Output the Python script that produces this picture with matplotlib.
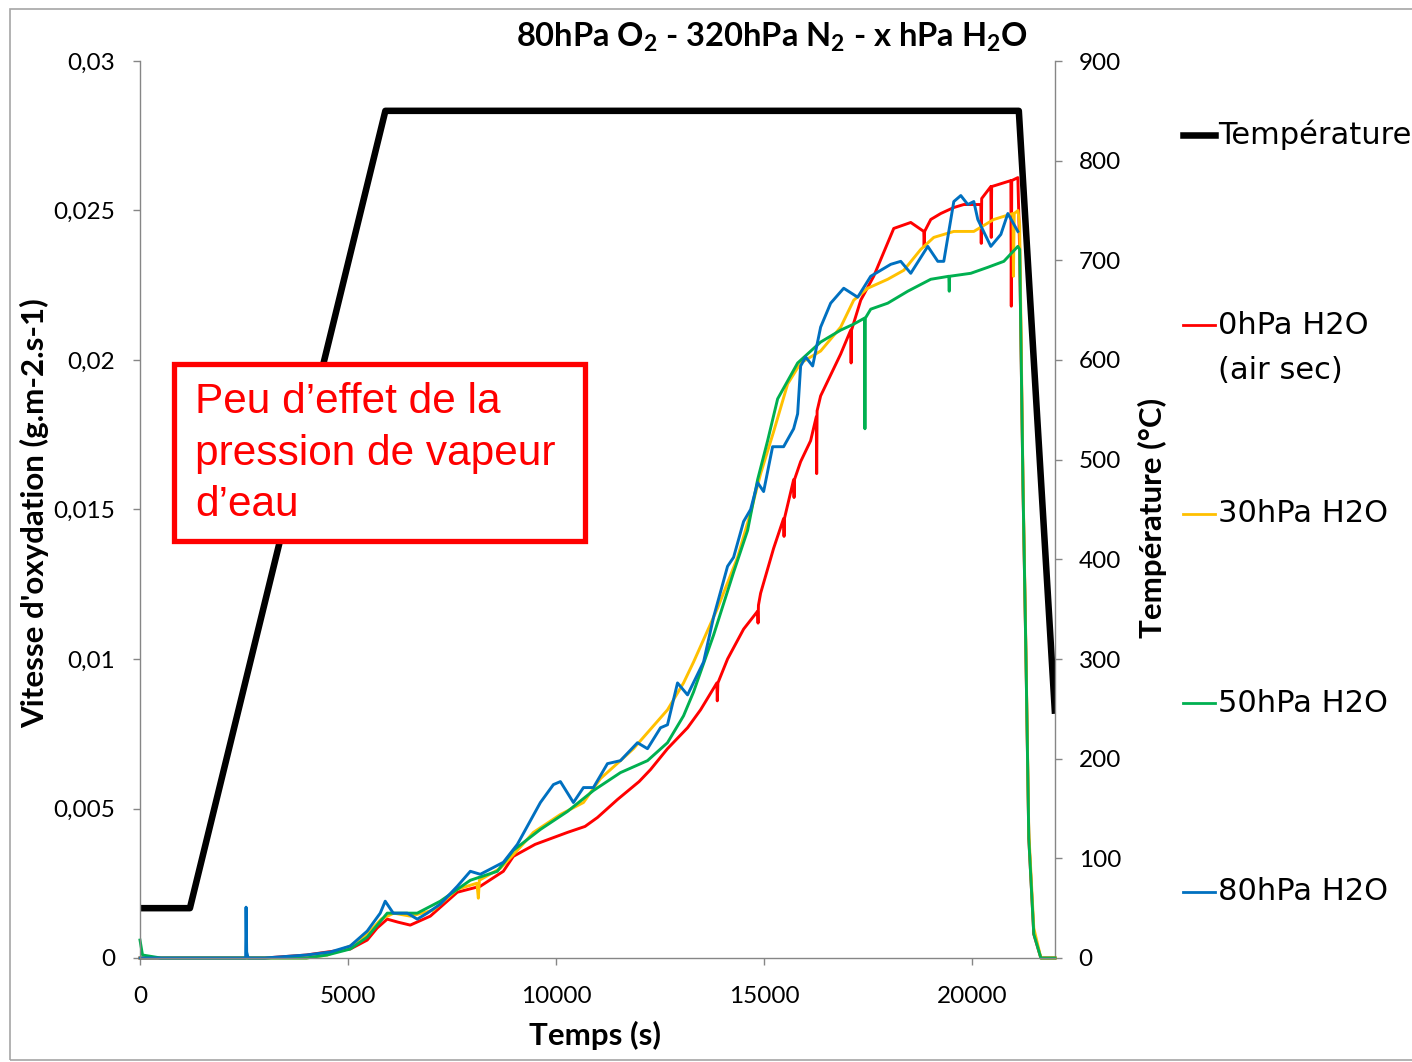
import matplotlib
matplotlib.use("Agg")
import matplotlib.pyplot as plt
from matplotlib.lines import Line2D
from matplotlib.patches import Rectangle

# ---------------- data ----------------
temp_t = [0, 1200, 5900, 21130, 22000]
temp_v = [50, 50, 850, 850, 245]

h0_t = [0, 1000, 2000, 3000, 4000, 4500, 5054, 5463, 5700, 5944, 6200, 6498, 6980, 7630, 8183, 8736,
        8977, 9500, 10277, 10700, 11000, 11480, 12000, 12274, 12683, 13165, 13478, 13870, 13880,
        13895, 14127, 14513, 14850, 14860, 14870, 14922, 15234, 15475, 15485, 15495, 15716, 15726, 15736,
        15884, 16124, 16260, 16270, 16280, 16365, 16847, 17088, 17098, 17108, 17329, 17641, 17882, 18123,
        18532, 18845, 18855, 18865, 19013, 19254, 19567, 19807, 20217, 20227, 20237, 20457, 20467, 20477,
        20939, 20949, 20960, 21107, 21150, 21230, 21300, 21370, 21490, 21660, 22000]
h0_v = [0.0, 0.0, 0.0, 0.0, 0.0001, 0.0002, 0.0003, 0.0006, 0.0010, 0.0013, 0.0012, 0.0011, 0.0014, 0.0022,
        0.0024, 0.0029, 0.0034, 0.0038, 0.0042, 0.0044, 0.0047, 0.0053, 0.0059, 0.0063, 0.0070,
        0.0077, 0.0083, 0.0092, 0.0086, 0.0092, 0.0100, 0.0110, 0.0116, 0.0112, 0.0118, 0.0122, 0.0137,
        0.0147, 0.0141, 0.0147, 0.0160, 0.0154, 0.0160, 0.0166, 0.0173, 0.0181, 0.0162, 0.0183, 0.0188,
        0.0202, 0.0210, 0.0199, 0.0210, 0.0220, 0.0228, 0.0236, 0.0244, 0.0246, 0.0243, 0.0238, 0.0243,
        0.0247, 0.0249, 0.0251, 0.0252, 0.0252, 0.0239, 0.0254, 0.0258, 0.0241, 0.0258, 0.0260, 0.0218,
        0.0260, 0.0261, 0.0237, 0.0158, 0.0102, 0.0040, 0.0008, 0.0, 0.0]

h30_t = [0, 1000, 2000, 3000, 4000, 4500, 5054, 5463, 5800, 6100, 6500, 7052, 7630, 8100, 8135, 8160,
         8664, 9073, 9458, 10108, 10662, 11071, 11552, 11865, 12683, 13069, 13310, 13887, 14368, 14681,
         14922, 15234, 15572, 15884, 16365, 16847, 17160, 17497, 17978, 18364, 18773, 19085, 19567, 20048,
         20529, 20990, 21000, 21020, 21110, 21150, 21230, 21300, 21370, 21490, 21660, 22000]
h30_v = [0.0, 0.0, 0.0, 0.0, 0.0, 0.0001, 0.0004, 0.0008, 0.0013, 0.0015, 0.0014, 0.0016, 0.0023, 0.0025,
         0.0020, 0.0026, 0.0030, 0.0036, 0.0042, 0.0048, 0.0052, 0.0060, 0.0066, 0.0070, 0.0083, 0.0092,
         0.0099, 0.0117, 0.0134, 0.0149, 0.0162, 0.0176, 0.0192, 0.0199, 0.0203, 0.0211, 0.0220, 0.0224,
         0.0227, 0.0230, 0.0237, 0.0241, 0.0243, 0.0243, 0.0247, 0.0249, 0.0228, 0.0249, 0.0250, 0.0245,
         0.0160, 0.0104, 0.0042, 0.0010, 0.0, 0.0]

h50_t = [0, 60, 500, 1000, 2000, 3000, 4000, 4500, 5054, 5463, 5944, 6667, 7220, 7942, 8592, 8977, 9627,
         10277, 10902, 11552, 12202, 12683, 13069, 13310, 13791, 14272, 14609, 14850, 15090, 15331, 15572,
         15812, 16365, 16847, 17160, 17420, 17430, 17440, 17569, 17978, 18460, 19013, 19447, 19457, 19467,
         19976, 20385, 20770, 21107, 21150, 21230, 21300, 21370, 21490, 21660, 22000]
h50_v = [0.0006, 0.0001, 0.0, 0.0, 0.0, 0.0, 0.0, 0.0001, 0.0003, 0.0007, 0.0015, 0.0015, 0.0019, 0.0026,
         0.0029, 0.0036, 0.0043, 0.0049, 0.0056, 0.0062, 0.0066, 0.0072, 0.0081, 0.0089, 0.0108, 0.0129,
         0.0143, 0.0160, 0.0173, 0.0187, 0.0193, 0.0199, 0.0206, 0.0210, 0.0212, 0.0214, 0.0177, 0.0214,
         0.0217, 0.0219, 0.0223, 0.0227, 0.0228, 0.0223, 0.0228, 0.0229, 0.0231, 0.0233, 0.0238, 0.0237,
         0.0158, 0.0102, 0.0040, 0.0008, 0.0, 0.0]

h80_t = [0, 1000, 2000, 2540, 2550, 2565, 2600, 3000, 4000, 4573, 5054, 5463, 5776, 5896, 6089, 6426, 6667,
         6907, 7220, 7630, 7942, 8183, 8736, 9073, 9627, 9940, 10108, 10421, 10662, 10902, 11239, 11552,
         11961, 12202, 12515, 12683, 12924, 13165, 13550, 13791, 14127, 14272, 14513, 14681, 14850, 14994,
         15210, 15475, 15716, 15812, 15884, 16005, 16173, 16365, 16606, 16920, 17256, 17569, 17810, 18051,
         18291, 18532, 18941, 19182, 19326, 19567, 19735, 19904, 20048, 20144, 20457, 20698, 20866, 21107]
h80_v = [0.0, 0.0, 0.0, 0.0, 0.0017, 0.0002, 0.0, 0.0, 0.0001, 0.0002, 0.0004, 0.0009, 0.0015, 0.0019,
         0.0015, 0.0015, 0.0013, 0.0015, 0.0018, 0.0024, 0.0029, 0.0028, 0.0032, 0.0038, 0.0052, 0.0058,
         0.0059, 0.0052, 0.0057, 0.0057, 0.0065, 0.0066, 0.0072, 0.0070, 0.0077, 0.0078, 0.0092, 0.0088,
         0.0099, 0.0114, 0.0131, 0.0134, 0.0146, 0.0150, 0.0159, 0.0156, 0.0171, 0.0171, 0.0177, 0.0182,
         0.0198, 0.0201, 0.0198, 0.0211, 0.0219, 0.0224, 0.0221, 0.0228, 0.0230, 0.0232, 0.0233, 0.0229,
         0.0238, 0.0233, 0.0233, 0.0253, 0.0255, 0.0252, 0.0253, 0.0247, 0.0238, 0.0242, 0.0249, 0.0243]

xticks = [0, 5000, 10000, 15000, 20000]
xtick_labels = ["0", "5000", "10000", "15000", "20000"]
yticks = [0, 0.005, 0.01, 0.015, 0.02, 0.025, 0.03]
ytick_labels = ["0", "0,005", "0,01", "0,015", "0,02", "0,025", "0,03"]
y2ticks = [0, 100, 200, 300, 400, 500, 600, 700, 800, 900]
y2tick_labels = [str(v) for v in y2ticks]

series = [
    ("0hPa H2O\n(air sec)", h0_t, h0_v, "#FF0000"),
    ("30hPa H2O", h30_t, h30_v, "#FFC000"),
    ("50hPa H2O", h50_t, h50_v, "#00B050"),
    ("80hPa H2O", h80_t, h80_v, "#0070C0"),
]

# ---------------- figure ----------------
W, H = 1412, 1062
plt.rcParams['font.family'] = ['Lato', 'DejaVu Sans']
plt.rcParams['mathtext.fontset'] = 'custom'
plt.rcParams['mathtext.rm'] = 'Lato:bold'
plt.rcParams['mathtext.default'] = 'rm'

fig = plt.figure(figsize=(W / 100, H / 100), dpi=100)


def fx(px):
    return px / W


def fy(py):
    return 1 - py / H


# outer chart border
fig.add_artist(Rectangle((fx(10), fy(1060)), fx(1500), 1051 / H, transform=fig.transFigure,
                         fill=False, edgecolor="#A6A6A6", linewidth=1.2, zorder=0))

ax = fig.add_axes([fx(140), fy(958), fx(1055) - fx(140), fy(61) - fy(958)])
ax2 = ax.twinx()
ax.set_zorder(ax2.get_zorder() + 1)
ax.patch.set_visible(False)

gray = "#868686"
for a in (ax, ax2):
    for s in a.spines.values():
        s.set_visible(False)
ax.spines['left'].set_visible(True)
ax.spines['bottom'].set_visible(True)
ax2.spines['right'].set_visible(True)
for s in (ax.spines['left'], ax.spines['bottom'], ax2.spines['right']):
    s.set_color(gray)
    s.set_linewidth(1.0)

for lbl, t, v, c in series:
    ax.plot(t, v, color=c, lw=2.1, solid_joinstyle='round', clip_on=False)

ax2.plot(temp_t, temp_v, color="black", lw=4.7, solid_joinstyle='round', solid_capstyle='butt')

ax.set_xlim(0, 22000)
ax.set_ylim(0, 0.03)
ax2.set_ylim(0, 900)

ax.set_xticks(xticks)
ax.set_xticklabels(xtick_labels)
ax.set_yticks(yticks)
ax.set_yticklabels(ytick_labels)
ax2.set_yticks(y2ticks)
ax2.set_yticklabels(y2tick_labels)

ax.tick_params(axis='both', direction='out', length=5, width=1, color=gray, labelsize=17.5,
               labelcolor="black")
ax.tick_params(axis='y', pad=13)
ax.tick_params(axis='x', pad=15)
ax2.tick_params(axis='y', direction='out', length=5, width=1, color=gray, labelsize=17.5, pad=12)

# title and axis labels
fig.text(fx(772), fy(37), r"80hPa O$_2$ - 320hPa N$_2$ - x hPa H$_2$O", ha='center', va='center',
         fontsize=23.5, fontweight='bold')
fig.text(fx(35), fy(513), "Vitesse d'oxydation (g.m-2.s-1)", rotation=90, ha='center', va='center',
         fontsize=22.5, fontweight='bold')
fig.text(fx(1152), fy(518), "Température (°C)", rotation=90, ha='center', va='center',
         fontsize=22.5, fontweight='bold')
fig.text(fx(595), fy(1035), "Temps (s)", ha='center', va='center', fontsize=22.5, fontweight='bold')

# legend (manual layout)
legend_items = [("Température", "black", 4.7, 135)] + \
               [(lbl, c, 2.0, y) for (lbl, t, v, c), y in zip(series, [325, 514, 703, 892])]
for lbl, c, lw, ypx in legend_items:
    fig.add_artist(Line2D([fx(1183), fx(1215)], [fy(ypx), fy(ypx)], color=c, lw=lw,
                          transform=fig.transFigure))
    parts = lbl.split("\n")
    fig.text(fx(1218), fy(ypx), parts[0], ha='left', va='center', fontsize=22,
             family='DejaVu Sans')
    if len(parts) > 1:
        fig.text(fx(1218), fy(ypx + 45), parts[1], ha='left', va='center', fontsize=22,
                 family='DejaVu Sans')

# annotation box
fig.add_artist(Rectangle((fx(174), fy(541)), fx(585) - fx(174), fy(364) - fy(541),
                         transform=fig.transFigure, facecolor='white', edgecolor='#FF0000',
                         linewidth=3.8, zorder=5))
for txt, ypx in [("Peu d\u2019effet de la", 402), ("pression de vapeur", 454), ("d\u2019eau", 505)]:
    fig.text(fx(195), fy(ypx), txt, ha='left', va='center', fontsize=30.5,
             color='#FF0000', family='Liberation Sans', zorder=6)

fig.savefig("out.png", dpi=100)
